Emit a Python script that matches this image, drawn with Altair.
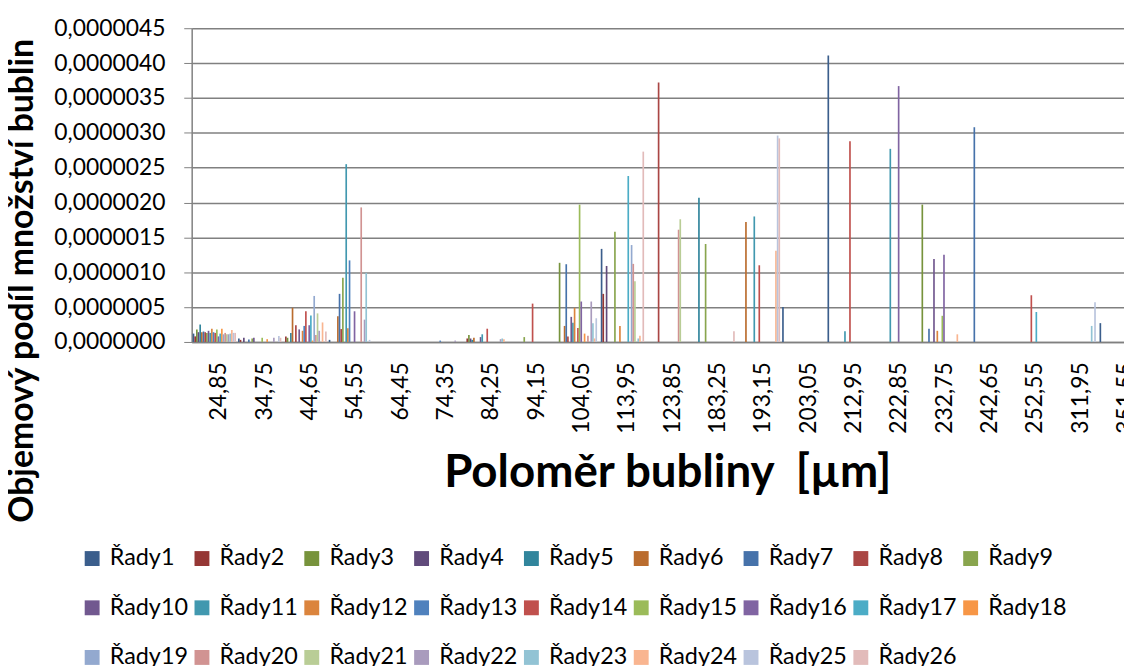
import altair as alt
import pandas as pd

# Category labels (bubble radius, µm)
categories = ["24,85", "34,75", "44,65", "54,55", "64,45", "74,35", "84,25", "94,15",
              "104,05", "113,95", "123,85", "183,25", "193,15", "203,05", "212,95",
              "222,85", "232,75", "242,65", "252,55", "311,95", "351,55"]

series = [f"Řady{i}" for i in range(1, 27)]

colors = ["#3B5E8C", "#953735", "#77933C", "#604A7B", "#31859C", "#BA6C2E",
          "#4672AA", "#AA4644", "#89A54E", "#71588F", "#4198AF", "#DB843D",
          "#4F81BD", "#C0504D", "#9BBB59", "#8064A2", "#4BACC6", "#F79646",
          "#93A9CF", "#D19392", "#B9CD96", "#A99BBD", "#92C3D4", "#F9B590",
          "#B9C4DD", "#E2BBBA"]

# values in units of 1e-6, one list per series, one entry per category
R1 = [0.12, 0.05, 0, 0.03, 0, 0, 0, 0, 0, 1.335, 0, 0, 0, 0.5, 4.11, 0, 0, 0, 0, 0, 0.27]
R2 = [0.08, 0.03, 0.08, 0, 0, 0, 0.05, 0, 0, 0.69, 0, 0, 0, 0, 0, 0, 0, 0, 0, 0, 0]
R3 = [0.18, 0, 0.06, 0, 0, 0, 0.10, 0, 1.135, 0, 0, 0, 0, 0, 0, 0, 1.97, 0, 0, 0, 0]
R4 = [0.14, 0.06, 0, 0, 0, 0, 0.05, 0, 0, 1.09, 0, 0, 0, 0, 0, 0, 0, 0, 0, 0, 0]
R5 = [0.25, 0, 0.13, 0, 0, 0, 0.03, 0, 0, 0, 0, 2.07, 0, 0, 0, 0, 0, 0, 0, 0, 0]
R6 = [0.14, 0, 0.49, 0.37, 0, 0, 0.06, 0, 0.23, 0, 0, 0, 1.72, 0, 0, 0, 0, 0, 0, 0, 0]
R7 = [0.15, 0.035, 0, 0.69, 0, 0, 0, 0, 1.115, 0, 0, 0, 0, 0, 0, 0, 0.19, 3.08, 0, 0, 0]
R8 = [0.14, 0, 0.24, 0.185, 0, 0, 0, 0, 0.08, 0, 3.72, 0, 0, 0, 0, 0, 0, 0, 0, 0, 0]
R9 = [0.13, 0.05, 0, 0.92, 0, 0, 0, 0.07, 0, 1.58, 0, 1.405, 0, 0, 0, 0, 0, 0, 0, 0, 0]
R10 = [0.16, 0.06, 0.18, 0, 0, 0, 0.07, 0, 0.36, 0, 0, 0, 0, 0, 0, 0, 1.19, 0, 0, 0, 0]
R11 = [0.13, 0, 0, 2.55, 0, 0, 0.11, 0, 0.275, 0, 0, 0, 1.8, 0, 0.155, 2.77, 0, 0, 0, 0, 0]
R12 = [0.19, 0, 0.16, 0.195, 0, 0, 0, 0, 0.49, 0.23, 0, 0, 0, 0, 0, 0, 0.16, 0, 0, 0, 0]
R13 = [0.14, 0, 0.23, 1.17, 0, 0.02, 0, 0, 0, 0, 0, 0, 0, 0, 0, 0, 0, 0, 0, 0, 0]
R14 = [0.13, 0, 0.44, 0, 0, 0, 0.19, 0.55, 0.2, 0, 0, 0, 1.1, 0, 2.88, 0, 0, 0, 0.67, 0, 0]
R15 = [0.18, 0.06, 0, 0, 0, 0, 0, 0, 1.97, 0, 0, 0, 0, 0, 0, 0, 0.375, 0, 0, 0, 0]
R16 = [0.08, 0, 0.24, 0.44, 0, 0, 0, 0, 0.58, 0, 0, 0, 0, 0, 0, 3.67, 1.25, 0, 0, 0, 0]
R17 = [0.12, 0, 0.38, 0, 0, 0, 0, 0, 0, 2.38, 0, 0, 0, 0, 0, 0, 0, 0, 0.43, 0, 0]
R18 = [0.19, 0.04, 0.02, 0, 0, 0, 0, 0, 0.12, 0, 0, 0, 0, 0, 0, 0, 0, 0, 0, 0, 0]
R19 = [0.11, 0, 0.66, 0, 0, 0, 0, 0, 0, 1.39, 0, 0, 0, 0, 0, 0, 0, 0, 0, 0, 0]
R20 = [0.13, 0, 0.10, 1.93, 0, 0, 0, 0, 0.09, 1.12, 1.61, 0, 0, 0, 0, 0, 0, 0, 0, 0, 0]
R21 = [0.11, 0, 0.41, 0, 0, 0, 0, 0, 0, 0.87, 1.76, 0, 0, 0, 0, 0, 0, 0, 0, 0, 0]
R22 = [0.11, 0.06, 0.16, 0.32, 0, 0.02, 0.04, 0, 0.58, 0, 0, 0, 0, 0, 0, 0, 0, 0, 0, 0, 0]
R23 = [0.12, 0, 0, 0.99, 0, 0, 0.05, 0, 0.27, 0.05, 0, 0, 0, 0, 0, 0, 0, 0, 0, 0.23, 0]
R24 = [0.17, 0, 0.28, 0, 0, 0, 0.04, 0, 0.05, 0.09, 0, 0, 1.31, 0, 0, 0, 0.11, 0, 0, 0, 0]
R25 = [0.13, 0.085, 0, 0.03, 0, 0, 0, 0, 0.34, 0, 0, 0, 2.96, 0, 0, 0, 0, 0, 0, 0.57, 0]
R26 = [0.13, 0.06, 0.15, 0, 0, 0, 0, 0, 0, 2.73, 0, 0.155, 2.92, 0, 0, 0, 0, 0, 0, 0, 0]

all_values = [R1, R2, R3, R4, R5, R6, R7, R8, R9, R10, R11, R12, R13,
              R14, R15, R16, R17, R18, R19, R20, R21, R22, R23, R24, R25, R26]

y_ticks = [0, 5e-7, 1e-6, 1.5e-6, 2e-6, 2.5e-6, 3e-6, 3.5e-6, 4e-6, 4.5e-6]

rows = []
for s, vals in zip(series, all_values):
    for c, v in zip(categories, vals):
        rows.append({"cat": c, "series": s, "value": v * 1e-6})
df = pd.DataFrame(rows)

FONT = "Lato"
GRID = "#808080"

chart = alt.Chart(df).mark_bar().encode(
    x=alt.X("cat:N", sort=categories,
            scale=alt.Scale(domain=categories, paddingInner=0, paddingOuter=0, range=[0, 959]),
            axis=alt.Axis(title="Poloměr bubliny \u00a0[µm]", labelAngle=270, labelFontSize=23,
                          labelPadding=20, labelOffset=5, ticks=False, domainColor=GRID,
                          domainWidth=1.5, labelColor="#000000", titleFontSize=46,
                          titleFontWeight="bold", titleColor="#000000", titleX=479, titleY=146,
                          titleBaseline="alphabetic", titleAlign="center")),
    xOffset=alt.XOffset("series:N", sort=series,
                        scale=alt.Scale(domain=series, paddingInner=0, paddingOuter=0.6)),
    y=alt.Y("value:Q", scale=alt.Scale(domain=[0, 4.5e-6], nice=False, zero=True),
            axis=alt.Axis(values=y_ticks,
                          labelExpr="replace(format(datum.value, '.7f'), '.', ',')",
                          labelFontSize=23, labelPadding=19, tickSize=8, tickColor=GRID,
                          domainColor=GRID, domainWidth=1.5, gridColor=GRID, gridWidth=1.5,
                          labelColor="#000000",
                          title="Objemový podíl množství bublin", titleFontSize=34,
                          titleFontWeight="bold", titleColor="#000000",
                          titleX=-170, titleY=254, titleAngle=270,
                          titleAlign="center", titleBaseline="middle")),
    color=alt.Color("series:N", sort=series,
                    scale=alt.Scale(domain=series, range=colors),
                    legend=alt.Legend(title=None, orient="none", legendX=-112, legendY=522,
                                      direction="horizontal", columns=9,
                                      symbolType="square", symbolSize=225, symbolStrokeWidth=0,
                                      labelFontSize=23.5, labelOffset=6, labelColor="#000000",
                                      columnPadding=1.6, rowPadding=25, gridAlign="all",
                                      labelLimit=200)),
).properties(
    width=939, height=316,
    autosize=alt.AutoSizeParams(type="none"),
    padding={"left": 185, "top": 18, "right": 0, "bottom": 324},
).configure(font=FONT).configure_view(strokeWidth=0)

chart.save("out.html", embed_options={"renderer": "svg", "actions": False})
